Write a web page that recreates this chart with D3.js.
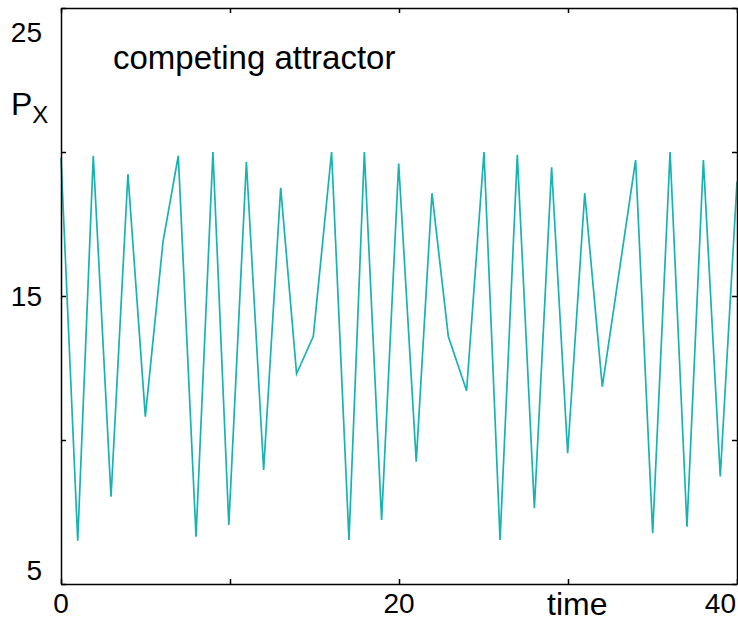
<!DOCTYPE html>
<meta charset="utf-8">
<style>
body { margin: 0; background: #fff; }
svg { display: block; font-family: "Liberation Sans", Arial, sans-serif; }
.frame line, .frame path { stroke: #000; }
</style>
<svg width="738" height="622"></svg>
<script src="https://d3js.org/d3.v7.min.js"></script>
<script>

// turning points of P_x
var times = [0, 0.99, 1.91, 2.96, 3.96, 4.99, 6.04, 6.94, 7.99, 8.99, 9.93,
  10.97, 11.99, 13.0, 13.94, 14.93, 16.01, 17.04, 17.95, 18.97, 19.98,
  21.02, 21.95, 22.92, 24.0, 25.03, 25.98, 27.0, 28.01, 29.03, 29.98,
  30.99, 32.03, 34.0, 35.01, 36.04, 37.04, 38.01, 39.01, 40];
var px = [19.8, 6.5, 19.87, 8.03, 19.23, 10.81, 16.9, 19.87, 6.64, 20.0, 7.05,
  19.66, 8.96, 18.76, 12.3, 13.6, 20.0, 6.53, 20.0, 7.22, 19.6,
  9.25, 18.57, 13.59, 11.71, 20.0, 6.53, 19.9, 7.63, 19.47, 9.54,
  18.57, 11.85, 19.72, 6.76, 20.0, 6.99, 19.72, 8.73, 18.97];

var xTicks = [0, 10, 20, 30, 40];
var xLabels = [0, 20, 40];
var yTicks = [5, 10, 15, 20, 25];
var yLabels = [5, 15, 25];

var svg = d3.select("svg"),
    margin = {top: 8, right: 1, bottom: 38, left: 61},
    width = +svg.attr("width") - margin.left - margin.right,
    height = +svg.attr("height") - margin.top - margin.bottom;

var x = d3.scaleLinear().domain([0, 40]).range([margin.left, margin.left + width]),
    y = d3.scaleLinear().domain([5, 25]).range([margin.top + height, margin.top]);

var data = times.map(function(t, i) { return {t: t, v: px[i]}; });

// the curve
svg.append("path")
    .datum(data)
    .attr("fill", "none")
    .attr("stroke", "#17b3b3")
    .attr("stroke-width", 1.7)
    .attr("d", d3.line()
      .x(function(d) { return x(d.t); })
      .y(function(d) { return y(d.v); }));

// box with inward ticks
function frame(g) {
  g.attr("class", "frame").attr("stroke-width", 1.5);
  g.selectAll("text").remove();
  g.select(".domain").attr("stroke-width", 1.5);
}
svg.append("g")
    .attr("transform", "translate(0," + y(5) + ")")
    .call(d3.axisBottom(x).tickValues(xTicks).tickSize(-5).tickSizeOuter(0))
    .call(frame);
svg.append("g")
    .attr("transform", "translate(0," + y(25) + ")")
    .call(d3.axisTop(x).tickValues(xTicks).tickSize(-5).tickSizeOuter(0))
    .call(frame);
svg.append("g")
    .attr("transform", "translate(" + x(0) + ",0)")
    .call(d3.axisLeft(y).tickValues(yTicks).tickSize(-5).tickSizeOuter(0))
    .call(frame);
svg.append("g")
    .attr("transform", "translate(" + x(40) + ",0)")
    .call(d3.axisRight(y).tickValues(yTicks).tickSize(-5).tickSizeOuter(0))
    .call(frame);

// tick labels
svg.selectAll(".xl")
    .data(xLabels)
    .enter().append("text")
    .attr("class", "xl")
    .attr("x", function(d) { return d === 40 ? x(d) - 1 : x(d); })
    .attr("y", y(5) + 29)
    .attr("text-anchor", function(d) { return d === 40 ? "end" : "middle"; })
    .attr("font-size", 28)
    .text(function(d) { return d; });

svg.selectAll(".yl")
    .data(yLabels)
    .enter().append("text")
    .attr("class", "yl")
    .attr("x", x(0) - 19)
    .attr("y", function(d) { return d === 25 ? y(d) + 34 : d === 5 ? y(d) - 4 : y(d) + 10; })
    .attr("text-anchor", "end")
    .attr("font-size", 28)
    .text(function(d) { return d; });

// titles
svg.append("text")
    .attr("x", 547)
    .attr("y", 615)
    .attr("font-size", 32)
    .text("time");

var py = svg.append("text")
    .attr("x", 11)
    .attr("y", 115)
    .attr("font-size", 32)
    .text("P");
py.append("tspan")
    .attr("dy", 8)
    .attr("font-size", 24)
    .text("X");

svg.append("text")
    .attr("x", 113)
    .attr("y", 69)
    .attr("font-size", 33)
    .text("competing attractor");

</script>
